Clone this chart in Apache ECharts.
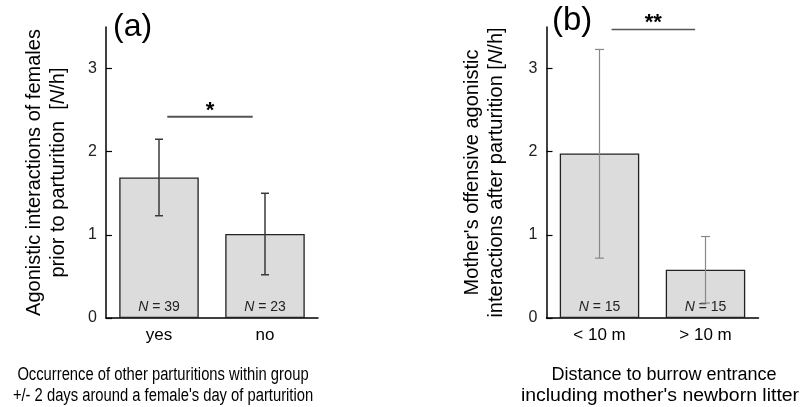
<!DOCTYPE html>
<html><head><meta charset="utf-8">
<script src="https://cdn.jsdelivr.net/npm/echarts@6/dist/echarts.min.js"></script>
<style>html,body{margin:0;padding:0;background:#fff}#c{width:802px;height:407px}</style>
</head><body><div id="c"></div>
<script>
// ---- data ----
const catsA = ['yes', 'no'];
const meanA = [1.69, 1.01];
const errHiA = [2.15, 1.50];
const errLoA = [1.23, 0.52];
const nA = [39, 23];

const catsB = ['< 10 m', '> 10 m'];
const meanB = [1.98, 0.58];
const errHiB = [3.23, 0.98];
const errLoB = [0.72, 0.18];
const nB = [15, 15];

const yTicks = [0, 1, 2, 3];
const yMax = 3.5;
const sigA = { from: 0, to: 1, y: 2.42, text: '*' };
const sigB = { from: 0, to: 1, y: 3.47, text: '**' };

const FONT = 'Liberation Sans, Arial, sans-serif';

function errRender(color, width, capHalf) {
  return function (params, api) {
    const x = api.value(0);
    const hi = api.coord([x, api.value(1)]);
    const lo = api.coord([x, api.value(2)]);
    const st = { stroke: color, lineWidth: width };
    return { type: 'group', children: [
      { type: 'line', shape: { x1: hi[0], y1: hi[1], x2: lo[0], y2: lo[1] }, style: st },
      { type: 'line', shape: { x1: hi[0] - capHalf, y1: hi[1], x2: hi[0] + capHalf, y2: hi[1] }, style: st },
      { type: 'line', shape: { x1: lo[0] - capHalf, y1: lo[1], x2: lo[0] + capHalf, y2: lo[1] }, style: st }
    ]};
  };
}

function sigRender(insetL, insetR, color, width, textSize, textDy) {
  return function (params, api) {
    const p0 = api.coord([api.value(0), api.value(2)]);
    const p1 = api.coord([api.value(1), api.value(2)]);
    const band = api.size([1, 0])[0];
    const x1 = p0[0] + band * insetL, x2 = p1[0] - band * insetR;
    return { type: 'group', children: [
      { type: 'line', shape: { x1: x1, y1: p0[1], x2: x2, y2: p0[1] }, style: { stroke: color, lineWidth: width } },
      { type: 'text', x: (x1 + x2) / 2, y: p0[1] + textDy,
        style: { text: params.dataIndex === 0 ? api.value(3) : '', fill: '#000', font: 'bold ' + textSize + 'px ' + FONT, align: 'center', verticalAlign: 'middle' } }
    ]};
  };
}

function yAxisCfg(gridIndex, name, gap) {
  return {
    type: 'value', gridIndex: gridIndex, min: 0, max: yMax, interval: 1,
    name: name, nameLocation: 'middle', nameGap: gap, nameMoveOverlap: false,
    nameTextStyle: { fontSize: 20, fontFamily: FONT, color: '#000', lineHeight: 24,
      rich: { i: { fontSize: 20, fontFamily: FONT, fontStyle: 'italic', color: '#000' } } },
    axisLine: { show: true, lineStyle: { color: '#000', width: 1.5 } },
    axisTick: { show: true, inside: true, length: 6, customValues: yTicks, lineStyle: { color: '#000', width: 1.2 } },
    axisLabel: { customValues: yTicks, margin: 9, fontSize: 16, fontFamily: FONT, color: '#222' },
    splitLine: { show: false }
  };
}
function xAxisCfg(gridIndex, cats) {
  return {
    type: 'category', gridIndex: gridIndex, data: cats,
    axisLine: { show: true, lineStyle: { color: '#000', width: 1.5 } },
    axisTick: { show: false },
    axisLabel: { margin: 9, fontSize: 17, fontFamily: FONT, color: '#000' }
  };
}
function barSeries(idx, vals, ns) {
  return {
    type: 'bar', xAxisIndex: idx, yAxisIndex: idx, data: vals, barWidth: '75%',
    itemStyle: { color: '#dcdcdc', borderColor: '#222', borderWidth: 1.3 },
    label: { show: true, position: 'insideBottom', distance: 4,
      formatter: p => '{i|N} = ' + ns[p.dataIndex],
      fontSize: 14, fontFamily: FONT, color: '#222',
      rich: { i: { fontSize: 14, fontFamily: FONT, fontStyle: 'italic', color: '#222' } } },
    z: 2
  };
}

const chart = echarts.init(document.getElementById('c'), null, { renderer: 'canvas' });
chart.setOption({
  animation: false,
  backgroundColor: '#fff',
  grid: [
    { left: 106, top: 27, width: 212, bottom: 89, outerBoundsMode: 'none' },
    { left: 546.5, top: 27, width: 212, bottom: 89, outerBoundsMode: 'none' }
  ],
  xAxis: [xAxisCfg(0, catsA), xAxisCfg(1, catsB)],
  yAxis: [
    yAxisCfg(0, 'Agonistic interactions of females\nprior to parturition  [{i|N}/h]', 36),
    yAxisCfg(1, "Mother's offensive agonistic\ninteractions after parturition [{i|N}/h]", 38)
  ],
  series: [
    barSeries(0, meanA, nA),
    barSeries(1, meanB, nB),
    { type: 'custom', xAxisIndex: 0, yAxisIndex: 0, z: 5,
      renderItem: errRender('#3a3a3a', 1.5, 4),
      data: catsA.map((c, i) => [i, errHiA[i], errLoA[i]]) },
    { type: 'custom', xAxisIndex: 1, yAxisIndex: 1, z: 5,
      renderItem: errRender('#888', 1.2, 4.5),
      data: catsB.map((c, i) => [i, errHiB[i], errLoB[i]]) },
    { type: 'custom', xAxisIndex: 0, yAxisIndex: 0, z: 5, clip: false,
      renderItem: sigRender(0.078, 0.116, '#555', 2, 22, -6),
      data: [[sigA.from, sigA.to, sigA.y, sigA.text]] },
    { type: 'custom', xAxisIndex: 1, yAxisIndex: 1, z: 5, clip: false,
      renderItem: sigRender(0.114, 0.098, '#555', 1.5, 22, -7),
      data: [[sigB.from, sigB.to, sigB.y, sigB.text]] }
  ],
  graphic: [
    { type: 'text', left: 113, top: 11, style: { text: '(a)', font: '32px ' + FONT, fill: '#000' } },
    { type: 'text', left: 552, top: 4, style: { text: '(b)', font: '33px ' + FONT, fill: '#000' } },
    { type: 'text', x: 163, y: 365, scaleX: 0.82, style: { text: 'Occurrence of other parturitions within group\n+/- 2 days around a female\'s day of parturition',
        font: '18px ' + FONT, fill: '#000', align: 'center', lineHeight: 21 } },
    { type: 'text', x: 664, y: 365, scaleX: 1.0, style: { text: 'Distance to burrow entrance',
        font: '18px ' + FONT, fill: '#000', align: 'center', lineHeight: 21 } },
    { type: 'text', x: 660, y: 386, scaleX: 1.08, style: { text: 'including mother\'s newborn litter',
        font: '18px ' + FONT, fill: '#000', align: 'center', lineHeight: 21 } }
  ]
});
</script>
</body></html>
